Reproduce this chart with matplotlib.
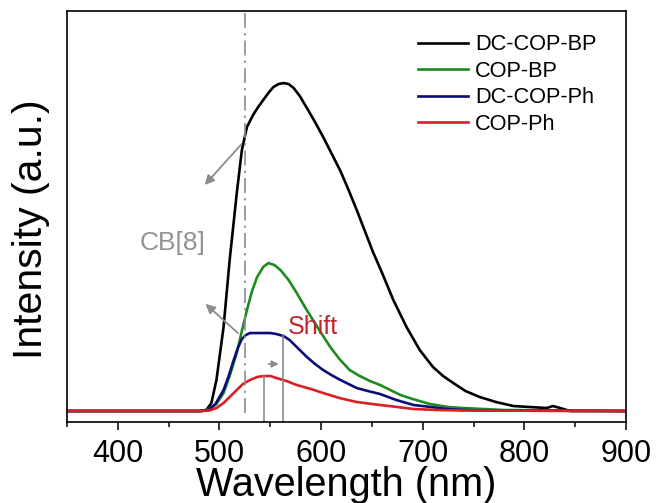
import matplotlib
matplotlib.use('Agg')
import matplotlib.pyplot as plt
from matplotlib.ticker import MultipleLocator

plt.rcParams['font.family'] = ['Liberation Sans', 'DejaVu Sans']

# emission spectra (intensity in arbitrary units)
wl_dc_bp = [350, 480, 487, 492, 497, 504, 510, 517, 522, 527, 533, 538, 543, 548, 553,
            558, 563, 568, 573, 579, 586, 594, 602, 610, 619, 627, 635, 643, 651,
            660, 671, 684, 697, 710, 720, 730, 742, 756, 772, 789, 805, 822, 828,
            835, 845, 900]
int_dc_bp = [0, 0, 1, 8, 31, 84, 151, 218, 261, 284, 296, 304, 311, 318, 324,
             327, 328, 327, 323, 315, 303, 289, 274, 258, 240, 221, 201, 180, 159,
             138, 111, 84, 61, 44, 35, 28, 20, 14, 9, 5, 4, 3, 5,
             3, 0, 0]

wl_bp = [350, 482, 490, 497, 504, 510, 517, 522, 527, 532, 537, 543, 548, 554,
         560, 568, 576, 584, 592, 600, 609, 618, 628, 638, 648, 658, 668, 678,
         690, 707, 725, 740, 760, 780, 900]
int_bp = [0, 0, 2, 7, 18, 35, 58, 80, 101, 120, 134, 144, 148, 146,
          141, 131, 118, 104, 91, 78, 64, 52, 41, 35, 30, 26, 21, 16,
          12, 7, 4, 3, 2, 1, 0]

wl_dc_ph = [350, 482, 489, 496, 504, 509, 514, 518, 522, 526, 530, 537, 543, 550,
            556, 563, 569, 578, 586, 594, 602, 610, 619, 627, 635, 646, 658, 674,
            691, 708, 724, 740, 760, 900]
int_dc_ph = [0, 0, 1, 7, 21, 35, 51, 63, 72, 76, 78, 78, 78, 78,
             77, 75, 71, 62, 54, 47, 41, 36, 31, 27, 23, 20, 17, 11,
             6, 4, 2, 1, 0.5, 0]

wl_ph = [350, 484, 490, 497, 504, 510, 517, 523, 530, 537, 543, 550, 556, 566,
         576, 590, 602, 618, 635, 658, 675, 691, 715, 740, 900]
int_ph = [0, 0, 0.5, 3, 8, 14, 21, 27, 31, 34, 35, 35, 33, 30,
          26, 22, 18, 13, 9, 6, 4, 2, 1, 0.5, 0]

labels = ['DC-COP-BP', 'COP-BP', 'DC-COP-Ph', 'COP-Ph']
colors = ['#000000', '#1f8a1f', '#0c0c7a', '#d92027']

cb8_pos = 525          # dash-dot marker
peak_ph = 544          # COP-Ph maximum
peak_dc_ph = 562       # DC-COP-Ph maximum

fig = plt.figure(figsize=(6.57, 5.03), dpi=100)
ax = fig.add_axes([0.102, 0.161, 0.851, 0.817])

series = [(wl_dc_bp, int_dc_bp), (wl_bp, int_bp), (wl_dc_ph, int_dc_ph), (wl_ph, int_ph)]
for (x, y), lab, c in zip(series, labels, colors):
    ax.plot(x, y, color=c, lw=1.9, label=lab, solid_joinstyle='round')

gray = '#8c8c8c'
ax.plot([cb8_pos, cb8_pos], [-2, 400], color=gray, lw=1.2, linestyle=(0, (9, 3, 1.5, 3)))
ax.plot([peak_ph, peak_ph], [-11, 35], color=gray, lw=1.2)
ax.plot([peak_dc_ph, peak_dc_ph], [-11, 76], color=gray, lw=1.2)

ax.annotate('', xy=(561, 47), xytext=(545.5, 47),
            arrowprops=dict(arrowstyle='-|>', color=gray, lw=1.2, mutation_scale=10))
ax.annotate('', xy=(483.6, 224), xytext=(523.5, 269),
            arrowprops=dict(arrowstyle='-|>', color=gray, lw=1.3, mutation_scale=14))
ax.annotate('', xy=(484.2, 109), xytext=(520.3, 76),
            arrowprops=dict(arrowstyle='-|>', color=gray, lw=1.3, mutation_scale=14))

ax.text(454, 168, 'CB[8]', color='#939393', fontsize=19, ha='center', va='center')
ax.text(591.6, 84, 'Shift', color='#c0272d', fontsize=18, ha='center', va='center')

ax.set_xlim(350, 900)
ax.set_ylim(-11, 400)
ax.set_yticks([])
ax.xaxis.set_major_locator(MultipleLocator(100))
ax.xaxis.set_minor_locator(MultipleLocator(50))
ax.tick_params(axis='x', which='major', length=6, width=1.1, labelsize=22, pad=6)
ax.tick_params(axis='x', which='minor', length=3.5, width=1.1)
for s in ax.spines.values():
    s.set_linewidth(1.2)

ax.set_xlabel('Wavelength (nm)', fontsize=28.5)
ax.xaxis.set_label_coords(0.5, -0.108)
ax.set_ylabel('Intensity (a.u.)', fontsize=29.5)
ax.yaxis.set_label_coords(-0.03, 0.47)

ax.legend(loc='upper left', bbox_to_anchor=(0.628, 0.943), frameon=False,
          fontsize=15.7, handlelength=2.3, handletextpad=0.3, labelspacing=0.25,
          borderpad=0, borderaxespad=0)

fig.savefig('out.png', dpi=100)
